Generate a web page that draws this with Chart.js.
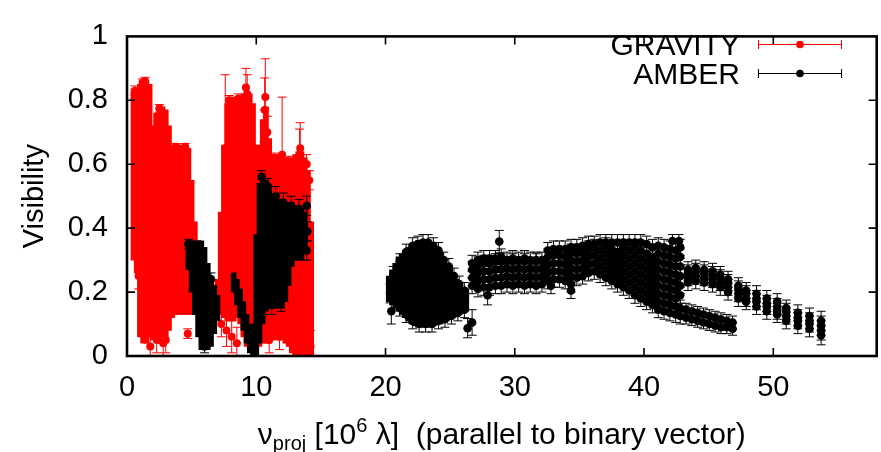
<!DOCTYPE html>
<html>
<head>
<meta charset="utf-8">
<script src="https://cdn.jsdelivr.net/npm/chart.js@4.4.1/dist/chart.umd.min.js"></script>
<style>
html,body{margin:0;padding:0;background:#fff;}
canvas{display:block;}
</style>
</head>
<body>
<canvas id="c" width="881" height="452"></canvas>
<script>
// ---------------- DATA ----------------
const xTickValues = [0, 10, 20, 30, 40, 50];
const yTickValues = [0, 0.2, 0.4, 0.6, 0.8, 1];
const seriesNames = ['GRAVITY', 'AMBER'];

// GRAVITY: densely packed channels, read as column envelopes (x, lower, upper)
const gravBandX  = [0.5,0.75,1.0,1.25,1.5,1.75,2.0,2.25,2.5,2.75,3.0,3.25,3.5,3.75,4.0,4.25,4.5,4.75,5.0,5.25,5.5,5.75,6.0,6.25,6.5,6.75,
                    7.0,7.25,7.5,7.75,8.0,8.25,8.5,8.75,9.0,9.25,9.5,9.75,10.0,10.25,10.5,10.75,11.0,11.25,11.5,11.75,12.0,12.25,12.5,12.75,13.0,13.25,13.5,13.75,14.0,14.25];
const gravBandLo = [0.30,0.26,0.06,0.04,0.04,0.06,0.05,0.05,0.04,0.06,0.06,0.08,0.12,0.13,0.13,0.13,0.13,0.13,0.13,0.13,0.13,0.13,0.13,0.13,0.13,0.14,
                    0.13,0.13,0.12,0.11,0.11,0.11,0.12,0.10,0.06,0.03,0.02,0.02,0.02,0.03,0.04,0.04,0.04,0.05,0.05,0.05,0.05,0.04,0.03,0.01,0.0,0.0,0.0,0.0,0.0,0.0];
const gravBandHi = [0.83,0.84,0.85,0.86,0.86,0.85,0.72,0.76,0.78,0.78,0.77,0.72,0.66,0.66,0.66,0.66,0.66,0.65,0.55,0.42,0.36,0.30,0.27,0.25,0.24,0.22,
                    0.24,0.45,0.66,0.79,0.81,0.81,0.81,0.81,0.82,0.84,0.82,0.79,0.66,0.66,0.74,0.78,0.68,0.63,0.63,0.63,0.63,0.62,0.62,0.62,0.63,0.64,0.64,0.62,0.58,0.42];

// GRAVITY: individually visible points with error bars
const gravX = [0.62,0.9,0.95,0.9,1.4,1.8,2.3,2.8,3.0,4.7,7.3,7.6,7.7,8.1,8.5,9.2,9.3,10.6,10.7,10.65,10.85,12.0,13.35,13.4,13.9,14.1,14.2,0.6,1.2,2.5,3.8,4.5,7.9,8.6,11.4,12.5,11.0,11.8];
const gravY = [0.83,0.33,0.29,0.25,0.86,0.03,0.05,0.04,0.05,0.07,0.10,0.65,0.08,0.06,0.04,0.84,0.82,0.72,0.81,0.77,0.70,0.63,0.63,0.65,0.60,0.55,0.03,0.82,0.855,0.775,0.655,0.655,0.80,0.805,0.62,0.61,0.05,0.06];
const gravE = [0.015,0.03,0.03,0.04,0.012,0.03,0.04,0.04,0.04,0.015,0.04,0.23,0.05,0.05,0.05,0.06,0.06,0.05,0.12,0.10,0.05,0.18,0.08,0.08,0.03,0.03,0.05,0.015,0.012,0.012,0.01,0.01,0.015,0.015,0.015,0.015,0.04,0.04];

// AMBER: densely packed clouds, read as column envelopes (x, lower, upper)
const amberBandX  = [4.75,5.0,5.25,5.5,5.75,6.0,6.25,6.5,6.75,7.0,
                     8.25,8.5,8.75,9.0,9.25,9.5,9.75,10.0,10.25,10.5,10.75,11.0,11.25,11.5,11.75,12.0,12.25,12.5,12.75,13.0,13.25,13.5,13.75,
                     20.25,20.5,20.75,21.0,21.25,21.5,21.75,22.0,22.25,22.5,22.75,23.0,23.25,23.5,23.75,24.0,24.25,24.5,24.75,25.0,25.25,25.5,25.75,26.0,26.25];
const amberBandLo = [0.27,0.20,0.13,0.06,0.02,0.02,0.02,0.03,0.07,0.11,
                     0.20,0.16,0.12,0.08,0.04,0.01,0.0,0.0,0.04,0.10,0.14,0.15,0.15,0.15,0.15,0.15,0.17,0.22,0.28,0.30,0.30,0.30,0.32,
                     0.17,0.16,0.15,0.14,0.13,0.12,0.11,0.10,0.095,0.09,0.09,0.09,0.09,0.09,0.095,0.10,0.10,0.105,0.11,0.115,0.12,0.125,0.13,0.135,0.14];
const amberBandHi = [0.36,0.36,0.36,0.36,0.36,0.34,0.29,0.25,0.22,0.19,
                     0.26,0.24,0.21,0.17,0.13,0.10,0.10,0.38,0.54,0.57,0.55,0.52,0.50,0.50,0.49,0.48,0.48,0.48,0.48,0.47,0.47,0.46,0.45,
                     0.25,0.27,0.29,0.31,0.32,0.33,0.34,0.35,0.355,0.36,0.36,0.36,0.355,0.355,0.345,0.335,0.325,0.305,0.29,0.275,0.26,0.24,0.225,0.215,0.21];

// AMBER: resolved points, column by column (x, list of visibilities, error)
const amberColX = [26.7,27.15,27.6,28.05,28.5,28.95,29.4,29.85,30.3,30.75,31.2,31.65,32.1,32.55,33.0,33.45,33.9,34.35,34.8,35.25,35.7,36.15,36.6,37.05,37.5,37.95,38.4,38.85,39.3,39.75,40.2,40.65,41.1,41.55,42.0,42.45,42.8,
                   43.25,43.4,43.7,44.0,44.15,44.6,44.65,45.05,45.3,45.5,45.9,45.95,46.4,46.5,46.85,47.3,47.9,48.7,49.5,50.3,51.0,51.9,52.8,53.7];
const amberColY = [
  [0.22,0.245,0.27,0.29],[0.21,0.235,0.26,0.285,0.30],[0.215,0.24,0.265,0.29,0.305],[0.215,0.24,0.265,0.29,0.305],
  [0.22,0.245,0.27,0.295,0.305],[0.22,0.245,0.27,0.295,0.31],[0.225,0.25,0.275,0.30],[0.22,0.245,0.27,0.295,0.305],
  [0.225,0.25,0.275,0.30],[0.22,0.245,0.27,0.295,0.305],[0.225,0.25,0.275,0.30],[0.22,0.245,0.27,0.295,0.30],
  [0.225,0.25,0.275,0.30],[0.235,0.26,0.285,0.31,0.33],[0.24,0.265,0.29,0.315,0.335],[0.24,0.265,0.29,0.315,0.335],
  [0.235,0.26,0.285,0.31,0.335],[0.205,0.225,0.25,0.275,0.30,0.325,0.34],[0.245,0.27,0.295,0.32,0.34],[0.25,0.275,0.30,0.325,0.345],
  [0.26,0.285,0.31,0.335,0.35],[0.265,0.29,0.315,0.34,0.35],[0.255,0.28,0.305,0.33,0.355],[0.245,0.27,0.295,0.32,0.345,0.355],
  [0.235,0.26,0.285,0.31,0.335,0.355],[0.225,0.25,0.275,0.30,0.325,0.355],[0.215,0.24,0.265,0.29,0.315,0.34,0.355],[0.205,0.23,0.255,0.28,0.305,0.33,0.355],
  [0.19,0.215,0.24,0.265,0.29,0.315,0.34,0.355],[0.18,0.205,0.23,0.255,0.28,0.305,0.33,0.355],[0.17,0.195,0.22,0.245,0.27,0.295,0.32,0.35],[0.16,0.185,0.21,0.235,0.26,0.285,0.31,0.34],
  [0.145,0.17,0.195,0.22,0.245,0.27,0.295,0.32,0.345],[0.14,0.165,0.19,0.215,0.24,0.265,0.29,0.315,0.34],[0.135,0.16,0.185,0.21,0.235,0.26,0.285,0.31,0.335],[0.13,0.155,0.18,0.205,0.23,0.255,0.28,0.305,0.33],
  [0.125,0.15,0.19,0.22,0.25,0.28,0.31,0.34],
  [0.12,0.145],[0.23,0.245,0.26,0.27],[0.115,0.14],[0.235,0.25,0.265,0.275],[0.11,0.135],[0.105,0.13],[0.23,0.245,0.26,0.27],
  [0.10,0.125],[0.225,0.24,0.255,0.265],[0.095,0.12],[0.215,0.23,0.245,0.255],[0.09,0.115],[0.09,0.11],[0.20,0.215,0.23,0.24],
  [0.085,0.105],[0.18,0.195,0.21,0.22],[0.17,0.18,0.195,0.205],[0.155,0.17,0.18,0.195],[0.14,0.155,0.165,0.18],[0.13,0.14,0.155,0.17],
  [0.11,0.125,0.14,0.15],[0.095,0.11,0.12,0.135],[0.085,0.10,0.11,0.125],[0.065,0.08,0.095,0.11]
];
const amberColE = [0.025,0.025,0.025,0.025,0.025,0.025,0.025,0.025,0.025,0.025,0.025,0.025,0.025,0.025,0.025,0.025,0.025,0.025,0.025,0.025,0.025,0.025,0.025,0.025,0.025,0.025,0.025,0.025,0.025,0.025,0.025,0.025,0.025,0.025,0.025,0.025,0.025,
                   0.02,0.025,0.02,0.025,0.02,0.02,0.025,0.02,0.025,0.02,0.025,0.02,0.02,0.025,0.02,0.025,0.025,0.025,0.025,0.025,0.025,0.025,0.025,0.03];

// AMBER: individually visible points (cloud edges and outliers)
const amberX = [4.75,5.0,6.0,6.5,10.4,10.9,11.5,12.1,12.7,13.3,13.9,13.95,13.9,10.5,11.2,11.9,
                20.35,20.45,20.6,21.1,21.6,22.1,22.5,22.9,23.3,23.7,24.1,24.5,24.9,25.3,25.7,26.1,
                21.1,21.6,22.1,22.6,23.1,23.6,24.1,24.6,25.1,25.6,26.1,26.35,26.7,27.9,28.8,42.2,42.7,32.8];
const amberY = [0.35,0.31,0.03,0.24,0.56,0.53,0.50,0.48,0.47,0.46,0.47,0.39,0.33,0.16,0.16,0.17,
                0.196,0.14,0.255,0.295,0.325,0.345,0.35,0.355,0.355,0.345,0.33,0.30,0.28,0.25,0.225,0.205,
                0.15,0.13,0.11,0.10,0.10,0.10,0.11,0.115,0.125,0.135,0.145,0.087,0.105,0.19,0.358,0.36,0.36,0.22];
const amberE = [0.015,0.02,0.02,0.02,0.02,0.025,0.03,0.03,0.03,0.03,0.03,0.03,0.03,0.03,0.03,0.03,
                0.03,0.04,0.025,0.025,0.025,0.025,0.025,0.025,0.025,0.025,0.025,0.025,0.025,0.025,0.025,0.025,
                0.025,0.025,0.025,0.025,0.025,0.025,0.025,0.025,0.025,0.025,0.025,0.03,0.04,0.03,0.035,0.02,0.02,0.025];

// ---------------- build library data ----------------
const gravBand  = gravBandX.map((x, i) => ({x, y: [gravBandLo[i], gravBandHi[i]]}));
const amberBand = amberBandX.map((x, i) => ({x, y: [amberBandLo[i], amberBandHi[i]]}));
const gravPts = gravX.map((x, i) => ({x, y: gravY[i], e: gravE[i]}));
const amberPts = [];
amberColX.forEach((x, i) => amberColY[i].forEach(y => amberPts.push({x, y, e: amberColE[i]})));
amberX.forEach((x, i) => amberPts.push({x, y: amberY[i], e: amberE[i]}));

const FONT = "'Liberation Sans', Arial, Helvetica, sans-serif";
Chart.defaults.font.family = FONT;
Chart.defaults.color = '#000';

const errorBarPlugin = {
  id: 'errorBars',
  beforeDatasetDraw(chart, args) {
    const ds = chart.data.datasets[args.index];
    if (!ds.errorBars) return;
    const {ctx, chartArea: ca} = chart;
    const ys = chart.scales.y;
    const cap = 4.5;
    ctx.save();
    ctx.beginPath();
    ctx.rect(ca.left, ca.top, ca.right - ca.left, ca.bottom - ca.top);
    ctx.clip();
    ctx.strokeStyle = ds.errorColor;
    ctx.lineWidth = 1;
    ctx.beginPath();
    args.meta.data.forEach((pt, i) => {
      const d = ds.data[i];
      const x = pt.x;
      const y1 = ys.getPixelForValue(d.y - d.e);
      const y2 = ys.getPixelForValue(d.y + d.e);
      ctx.moveTo(x, y1); ctx.lineTo(x, y2);
      ctx.moveTo(x - cap, y1); ctx.lineTo(x + cap, y1);
      ctx.moveTo(x - cap, y2); ctx.lineTo(x + cap, y2);
    });
    ctx.stroke();
    ctx.restore();
  }
};

const framePlugin = {
  id: 'frame',
  afterDraw(chart) {
    const {ctx, chartArea: ca} = chart;
    const xs = chart.scales.x, ys = chart.scales.y;
    ctx.save();
    ctx.strokeStyle = '#000';
    ctx.lineWidth = 1.6;
    ctx.beginPath();
    xs.ticks.forEach(t => {
      const px = xs.getPixelForValue(t.value);
      if (px <= ca.left + 1 || px >= ca.right - 1) return;
      ctx.moveTo(px, ca.bottom); ctx.lineTo(px, ca.bottom - 8);
      ctx.moveTo(px, ca.top); ctx.lineTo(px, ca.top + 8);
    });
    ys.ticks.forEach(t => {
      const py = ys.getPixelForValue(t.value);
      if (py <= ca.top + 1 || py >= ca.bottom - 1) return;
      ctx.moveTo(ca.left, py); ctx.lineTo(ca.left + 8, py);
      ctx.moveTo(ca.right, py); ctx.lineTo(ca.right - 8, py);
    });
    ctx.stroke();
    ctx.lineWidth = 2.6;
    ctx.strokeRect(ca.left, ca.top, ca.right - ca.left, ca.bottom - ca.top);

    // legend
    const leg = [
      {name: seriesNames[0], color: '#ff0000', y: 44},
      {name: seriesNames[1], color: '#000000', y: 73}
    ];
    ctx.font = '30px ' + FONT;
    ctx.textAlign = 'right';
    ctx.textBaseline = 'alphabetic';
    leg.forEach(l => {
      ctx.fillStyle = '#000';
      ctx.fillText(l.name, 740, l.y + 10.5);
      ctx.strokeStyle = l.color;
      ctx.lineWidth = 1;
      ctx.beginPath();
      ctx.moveTo(758, l.y + 0.5); ctx.lineTo(842, l.y + 0.5);
      ctx.moveTo(758.5, l.y - 4); ctx.lineTo(758.5, l.y + 5);
      ctx.moveTo(841.5, l.y - 4); ctx.lineTo(841.5, l.y + 5);
      ctx.stroke();
      ctx.fillStyle = l.color;
      ctx.beginPath();
      ctx.arc(800, l.y + 0.5, 3.8, 0, Math.PI * 2);
      ctx.fill();
    });

    // x axis title with sub/superscripts
    const segs = [
      {t: 'ν', s: 30, dy: 0},
      {t: 'proj', s: 20, dy: 6},
      {t: ' [10', s: 30, dy: 0},
      {t: '6', s: 20, dy: -12},
      {t: ' λ]  (parallel to binary vector)', s: 30, dy: 0}
    ];
    let total = 0;
    segs.forEach(sg => { ctx.font = sg.s + 'px ' + FONT; sg.w = ctx.measureText(sg.t).width; total += sg.w; });
    let x0 = (ca.left + ca.right) / 2 - total / 2;
    ctx.textAlign = 'left';
    ctx.fillStyle = '#000';
    segs.forEach(sg => {
      ctx.font = sg.s + 'px ' + FONT;
      ctx.fillText(sg.t, x0, 444 + sg.dy);
      x0 += sg.w;
    });
    ctx.restore();
  }
};

new Chart(document.getElementById('c'), {
  type: 'scatter',
  data: {
    datasets: [
      {type: 'scatter', label: seriesNames[1], data: amberPts, backgroundColor: '#000', borderWidth: 0,
       pointRadius: 4.3, errorBars: true, errorColor: '#000', order: 1},
      {type: 'bar', label: seriesNames[1] + ' (dense)', data: amberBand, backgroundColor: '#000',
       grouped: false, barThickness: 5, order: 2},
      {type: 'scatter', label: seriesNames[0], data: gravPts, backgroundColor: '#ff0000', borderWidth: 0,
       pointRadius: 4, errorBars: true, errorColor: '#ff0000', order: 3},
      {type: 'bar', label: seriesNames[0] + ' (dense)', data: gravBand, backgroundColor: '#ff0000',
       grouped: false, barThickness: 5, order: 4}
    ]
  },
  options: {
    responsive: false,
    animation: false,
    events: [],
    layout: {padding: {top: 18, right: 4, left: 0, bottom: 0}},
    plugins: {legend: {display: false}, tooltip: {enabled: false}},
    scales: {
      x: {
        type: 'linear', min: 0, max: 58, offset: false,
        grid: {display: false, drawTicks: false}, border: {display: false},
        afterBuildTicks: s => { s.ticks = xTickValues.map(v => ({value: v})); },
        ticks: {padding: 15, color: '#000', font: {size: 29}, maxRotation: 0, autoSkip: false},
        afterFit: s => { s.height = 96; }
      },
      y: {
        type: 'linear', min: 0, max: 1,
        grid: {display: false, drawTicks: false}, border: {display: false},
        afterBuildTicks: s => { s.ticks = yTickValues.map(v => ({value: v})); },
        ticks: {padding: 19, color: '#000', font: {size: 29}, autoSkip: false,
                callback: v => String(Math.round(v * 10) / 10)},
        title: {display: true, text: 'Visibility', color: '#000', font: {size: 29}, padding: {top: 18, bottom: 0}},
        afterFit: s => { s.width = 127; }
      }
    }
  },
  plugins: [errorBarPlugin, framePlugin]
});
</script>
</body>
</html>
